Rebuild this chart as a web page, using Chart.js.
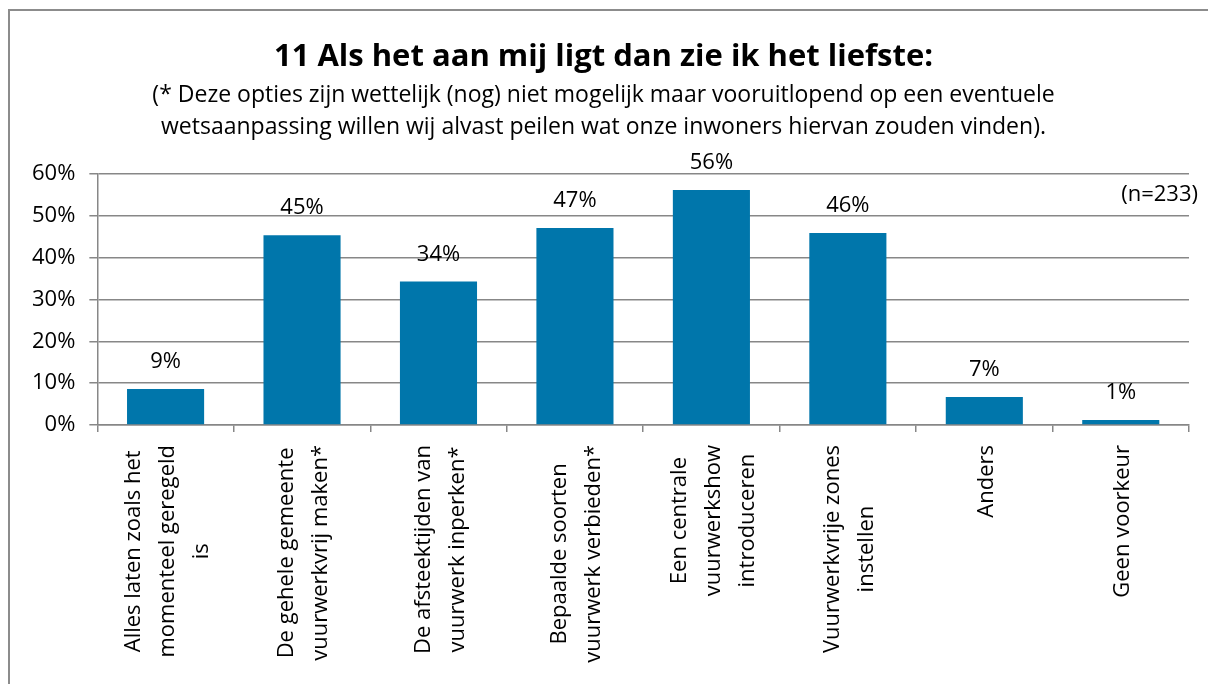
<!DOCTYPE html>
<html>
<head>
<meta charset="utf-8">
<script src="https://cdn.jsdelivr.net/npm/chart.js@4.4.1/dist/chart.umd.min.js"></script>
<style>
  html, body { margin: 0; padding: 0; background: #fff; }
  #wrap { position: relative; width: 1208px; height: 684px; overflow: hidden; }
  #frame { position: absolute; left: 8px; top: 9px; width: 1300px; height: 800px; border: 2px solid #8c8c8c; }
  #myChart { position: absolute; left: 0; top: 0; }
</style>
</head>
<body>
<div id="wrap">
  <div id="frame"></div>
  <canvas id="myChart" width="1208" height="684"></canvas>
</div>
<script>
// data
const titel = '11 Als het aan mij ligt dan zie ik het liefste:';
const ondertitel = [
    '(* Deze opties zijn wettelijk (nog) niet mogelijk maar vooruitlopend op een eventuele',
    'wetsaanpassing willen wij alvast peilen wat onze inwoners hiervan zouden vinden).'
];
const categorieen = [
    ['Alles laten zoals het', 'momenteel geregeld', 'is'],
    ['De gehele gemeente', 'vuurwerkvrij maken*'],
    ['De afsteektijden van', 'vuurwerk inperken*'],
    ['Bepaalde soorten', 'vuurwerk verbieden*'],
    ['Een centrale', 'vuurwerkshow', 'introduceren'],
    ['Vuurwerkvrije zones', 'instellen'],
    ['Anders'],
    ['Geen voorkeur']
];
const percentages = [8.6, 45.4, 34.3, 47.1, 56.2, 45.9, 6.7, 1.2];
const yMin = 0, yMax = 60, yStap = 10;
const aantal = '(n=233)';

const FONT = "'Open Sans', sans-serif";
const GRIJS = '#878787';

// labels boven de balken
const waardeLabels = {
    id: 'waardeLabels',
    afterDatasetsDraw(chart) {
        const ctx = chart.ctx;
        const meta = chart.getDatasetMeta(0);
        ctx.save();
        ctx.font = '22px ' + FONT;
        ctx.fillStyle = '#000';
        ctx.textAlign = 'center';
        ctx.textBaseline = 'bottom';
        meta.data.forEach((bar, i) => {
            ctx.fillText(Math.round(percentages[i]) + '%', bar.x, bar.y - 16);
        });
        ctx.restore();
    }
};

// gedraaide categorie-labels (regels gecentreerd) + n=233
const asLabels = {
    id: 'asLabels',
    afterDraw(chart) {
        const ctx = chart.ctx;
        const xs = chart.scales.x;
        const area = chart.chartArea;
        const regelH = 34;
        ctx.save();
        ctx.font = '22px ' + FONT;
        ctx.fillStyle = '#000';
        ctx.textAlign = 'center';
        ctx.textBaseline = 'middle';
        categorieen.forEach((regels, i) => {
            const x = xs.getPixelForValue(i);
            const maxW = Math.max(...regels.map(r => ctx.measureText(r).width));
            const midY = area.bottom + 20 + maxW / 2;
            regels.forEach((r, j) => {
                ctx.save();
                ctx.translate(x + 2 + (j - (regels.length - 1) / 2) * regelH, midY);
                ctx.rotate(-Math.PI / 2);
                ctx.fillText(r, 0, 0);
                ctx.restore();
            });
        });
        ctx.textAlign = 'right';
        ctx.fillText(aantal, area.right + 9, chart.scales.y.getPixelForValue(55));
        ctx.restore();
    }
};

const config = {
    type: 'bar',
    data: {
        labels: categorieen.map(c => c.join(' ')),
        datasets: [{
            data: percentages,
            backgroundColor: '#0076AB',
            barPercentage: 0.565,
            categoryPercentage: 1
        }]
    },
    options: {
        responsive: false,
        animation: false,
        layout: { padding: { left: 18, right: 19, top: 0, bottom: 252 } },
        plugins: {
            legend: { display: false },
            tooltip: { enabled: false },
            title: {
                display: true,
                text: titel,
                color: '#000',
                font: { family: FONT, size: 31, weight: 'bold' },
                padding: { top: 39, bottom: 3 }
            },
            subtitle: {
                display: true,
                text: ondertitel,
                color: '#000',
                font: { family: FONT, size: 23, lineHeight: 1.39 },
                padding: { bottom: 31 }
            }
        },
        scales: {
            x: {
                grid: { display: true, drawOnChartArea: false, offset: true, tickLength: 7, color: GRIJS, lineWidth: 1.5 },
                border: { color: GRIJS, width: 1.5 },
                ticks: { display: false }
            },
            y: {
                min: yMin,
                max: yMax,
                grid: { color: GRIJS, lineWidth: 1.5, tickLength: 8 },
                border: { color: GRIJS, width: 1.5 },
                ticks: {
                    stepSize: yStap,
                    color: '#000',
                    padding: 14,
                    font: { family: FONT, size: 22 },
                    callback: v => v + '%'
                }
            }
        }
    },
    plugins: [waardeLabels, asLabels]
};

new Chart(document.querySelector('#myChart').getContext('2d'), config);
</script>
</body>
</html>
